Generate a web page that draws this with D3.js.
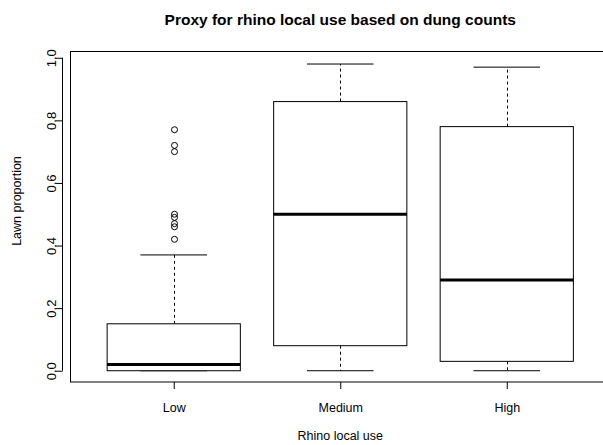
<!DOCTYPE html>
<html>
<head>
<meta charset="utf-8">
<script src="https://cdn.jsdelivr.net/npm/d3@7"></script>
<style>
  html, body { margin: 0; padding: 0; background: #fff; }
  svg { display: block; }
  text { font-family: "Liberation Sans", Arial, Helvetica, sans-serif; fill: #000; }
</style>
</head>
<body>
<svg id="chart" width="603" height="445"></svg>
<script>
// ---- data ----
const categories = ["Low", "Medium", "High"];
const whiskerLow  = [0.00, 0.00, 0.00];
const q1          = [0.00, 0.08, 0.03];
const medians     = [0.02, 0.50, 0.29];
const q3          = [0.15, 0.86, 0.78];
const whiskerHigh = [0.37, 0.98, 0.97];
const outliersLow = [0.77, 0.72, 0.70, 0.50, 0.49, 0.47, 0.46, 0.42];
const outliers    = [outliersLow, [], []];
const yTicks      = [0.0, 0.2, 0.4, 0.6, 0.8, 1.0];

const title  = "Proxy for rhino local use based on dung counts";
const xTitle = "Rhino local use";
const yTitle = "Lawn proportion";

// ---- layout ----
const svg = d3.select("#chart");
const plotLeft = 70.5, plotRight = 610, plotTop = 51.5, plotBottom = 382;

const x = d3.scaleLinear().domain([0.38, 3.62]).range([plotLeft, plotRight]);
const y = d3.scaleLinear().domain([-0.036, 1.02]).range([plotBottom, plotTop]);

const boxW = 0.8, capW = 0.4;

const groups = categories.map((c, i) => ({
  name: c, pos: i + 1,
  lo: whiskerLow[i], q1: q1[i], med: medians[i], q3: q3[i], hi: whiskerHigh[i],
  out: outliers[i]
}));

const g = svg.append("g");

groups.forEach(d => {
  const gx = g.append("g");
  const cx = Math.round(x(d.pos)) + 0.5;
  // whiskers (dashed)
  gx.append("line").attr("x1", cx).attr("x2", cx)
    .attr("y1", y(d.q3)).attr("y2", y(d.hi))
    .attr("stroke", "#000").attr("stroke-width", 1).attr("stroke-dasharray", "3,3");
  gx.append("line").attr("x1", cx).attr("x2", cx)
    .attr("y1", y(d.q1)).attr("y2", y(d.lo))
    .attr("stroke", "#000").attr("stroke-width", 1).attr("stroke-dasharray", "3,3");
  // caps
  [d.lo, d.hi].forEach(v => {
    gx.append("line")
      .attr("x1", x(d.pos - capW / 2)).attr("x2", x(d.pos + capW / 2))
      .attr("y1", y(v)).attr("y2", y(v))
      .attr("stroke", "#000").attr("stroke-width", 1);
  });
  // box
  gx.append("rect")
    .attr("x", x(d.pos - boxW / 2)).attr("width", x(d.pos + boxW / 2) - x(d.pos - boxW / 2))
    .attr("y", y(d.q3)).attr("height", y(d.q1) - y(d.q3))
    .attr("fill", "#fff").attr("stroke", "#000").attr("stroke-width", 1);
  // median
  gx.append("line")
    .attr("x1", x(d.pos - boxW / 2)).attr("x2", x(d.pos + boxW / 2))
    .attr("y1", y(d.med)).attr("y2", y(d.med))
    .attr("stroke", "#000").attr("stroke-width", 3);
  // outliers
  gx.selectAll("circle").data(d.out).join("circle")
    .attr("cx", cx).attr("cy", v => y(v)).attr("r", 3)
    .attr("fill", "none").attr("stroke", "#000").attr("stroke-width", 1);
});

// frame
svg.append("rect")
  .attr("x", plotLeft).attr("y", plotTop)
  .attr("width", plotRight - plotLeft).attr("height", plotBottom - plotTop)
  .attr("fill", "none").attr("stroke", "#000").attr("stroke-width", 1);

// y axis
const yAxis = d3.axisLeft(y).tickValues(yTicks).tickSize(7).tickPadding(0)
  .tickFormat(d3.format(".1f"));
const ya = svg.append("g").attr("transform", `translate(${plotLeft - 8},0)`).call(yAxis);
ya.select(".domain").attr("d", `M0,${y(0)}V${y(1)}`);
ya.selectAll(".tick text").remove();
ya.selectAll(".tick").append("text")
  .attr("transform", "translate(-11,0) rotate(-90)")
  .attr("text-anchor", "middle").attr("dy", "0.35em")
  .style("font-size", "13px").text(d => d3.format(".1f")(d));
ya.selectAll("path, line").attr("stroke", "#000");

// x axis
const xAxis = d3.axisBottom(x).tickValues(groups.map(d => d.pos))
  .tickSize(7).tickFormat((d, i) => categories[i]).tickPadding(14);
const xa = svg.append("g").attr("transform", `translate(0,${plotBottom})`).call(xAxis);
xa.select(".domain").remove();
xa.selectAll(".tick text").style("font-size", "12.5px").attr("dy", "0.71em");
xa.selectAll("line").attr("stroke", "#000");

// titles
svg.append("text").attr("x", (plotLeft + plotRight) / 2).attr("y", 25)
  .attr("text-anchor", "middle").style("font-size", "15.5px").style("font-weight", "bold")
  .text(title);
svg.append("text").attr("x", (plotLeft + plotRight) / 2).attr("y", 440)
  .attr("text-anchor", "middle").style("font-size", "12.5px").text(xTitle);
svg.append("text").attr("transform", `translate(21,201) rotate(-90)`)
  .attr("text-anchor", "middle").style("font-size", "12.5px").text(yTitle);
</script>
</body>
</html>
